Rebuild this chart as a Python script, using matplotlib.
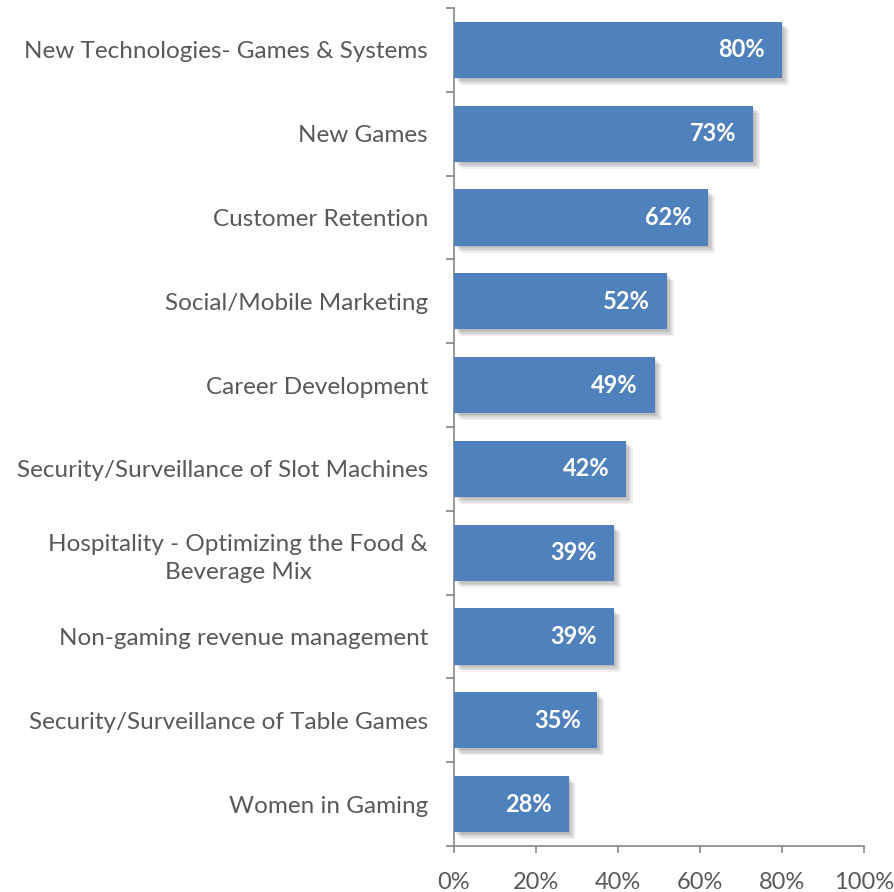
import matplotlib
matplotlib.use("Agg")
import matplotlib.pyplot as plt
import matplotlib.patheffects as pe
from matplotlib.ticker import FixedLocator, NullFormatter, FixedFormatter
import numpy as np

categories = [
    "New Technologies- Games & Systems",
    "New Games",
    "Customer Retention",
    "Social/Mobile Marketing",
    "Career Development",
    "Security/Surveillance of Slot Machines",
    "Hospitality - Optimizing the Food &\nBeverage Mix",
    "Non-gaming revenue management",
    "Security/Surveillance of Table Games",
    "Women in Gaming",
]
values = [80, 73, 62, 52, 49, 42, 39, 39, 35, 28]
x_ticks = [0, 20, 40, 60, 80, 100]
x_tick_labels = ["0%", "20%", "40%", "60%", "80%", "100%"]

plt.rcParams["font.family"] = ["Lato", "DejaVu Sans"]

bar_color = "#4F81BD"
text_color = "#595959"
axis_color = "#868686"

fig = plt.figure(figsize=(8.95, 8.92), dpi=100)
ax = fig.add_axes([0.507, 0.0516, 0.458, 0.9394])

n = len(categories)
ypos = np.arange(n)
bars = ax.barh(ypos, values, height=0.67, color=bar_color, zorder=3)
# soft drop shadow built from a few faint offset layers
shadow = [pe.SimplePatchShadow(offset=(d, -d), shadow_rgbFace="#000000", alpha=0.06)
          for d in (1.0, 2.0, 3.0, 4.0, 5.0)]
for b in bars:
    b.set_path_effects(shadow + [pe.Normal()])

for y, v in zip(ypos, values):
    ax.annotate(f"{v}%", xy=(v, y), xytext=(-12, 0), textcoords="offset points",
                ha="right", va="center", color="white", fontsize=17,
                fontweight="bold", zorder=4)

ax.set_xlim(0, 100)
ax.set_ylim(n - 0.5, -0.5)

ax.xaxis.set_major_locator(FixedLocator(x_ticks))
ax.xaxis.set_major_formatter(FixedFormatter(x_tick_labels))

ax.yaxis.set_major_locator(FixedLocator(np.arange(n + 1) - 0.5))
ax.yaxis.set_major_formatter(NullFormatter())
ax.yaxis.set_minor_locator(FixedLocator(ypos))
ax.yaxis.set_minor_formatter(FixedFormatter(categories))

ax.tick_params(axis="x", which="major", length=5, width=1.2, color=axis_color,
               labelsize=17, labelcolor=text_color, pad=14)
ax.tick_params(axis="y", which="major", length=6, width=1.2, color=axis_color)
ax.tick_params(axis="y", which="minor", length=0, labelsize=17.5,
               labelcolor=text_color, pad=18.5)
for lbl in ax.yaxis.get_minorticklabels():
    lbl.set_multialignment("center")
    lbl.set_linespacing(1.45)

for s in ["top", "right"]:
    ax.spines[s].set_visible(False)
for s in ["left", "bottom"]:
    ax.spines[s].set_color(axis_color)
    ax.spines[s].set_linewidth(1.2)

fig.savefig("out.png", dpi=100, facecolor="white")
